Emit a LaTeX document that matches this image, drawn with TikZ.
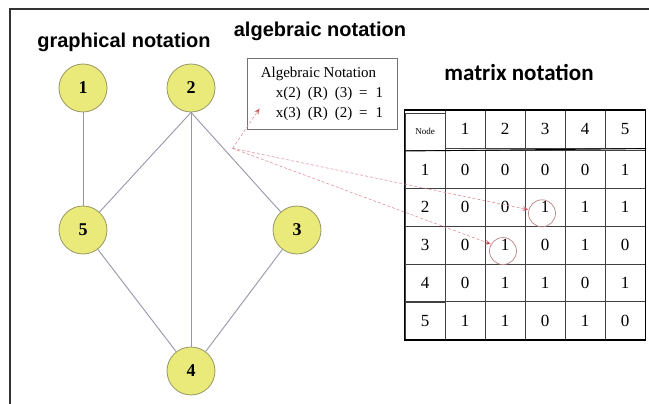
\documentclass[tikz,border=0pt]{standalone}
\usepackage{fontspec}
\setmainfont{Liberation Serif}
\setsansfont{Liberation Sans}
\newfontfamily\calfont{Carlito}
\usetikzlibrary{arrows.meta,positioning,matrix,calc}
\definecolor{NodeFill}{RGB}{234,234,122}
\definecolor{NodeLine}{RGB}{150,150,100}
\definecolor{EdgeGray}{RGB}{150,150,170}
\definecolor{LinkRed}{RGB}{220,130,140}
\definecolor{TipRed}{RGB}{190,30,50}
\definecolor{RingRed}{RGB}{185,130,130}
\tikzset{
  vert/.style={circle,draw=NodeLine,fill=NodeFill,line width=0.8pt,minimum size=48pt,
               inner sep=0pt,font=\fontsize{18}{18}\selectfont\bfseries},
  edge/.style={draw=EdgeGray,line width=0.9pt},
  title/.style={font=\sffamily\bfseries\fontsize{20}{20}\selectfont,inner sep=0pt},
  cell/.style={draw=black!75,line width=0.6pt,minimum width=40pt,minimum height=37.7pt,
               inner sep=0pt,font=\fontsize{17}{17}\selectfont},
  algbox/.style={draw=black!55,line width=0.8pt,minimum width=150pt,minimum height=71pt,
                 align=left,inner sep=0pt,font=\fontsize{15}{20}\selectfont},
  ring/.style={circle,draw=RingRed,line width=0.7pt,minimum size=27pt,inner sep=0pt},
  link/.style={-{Stealth[length=6pt,width=5pt,fill=TipRed]},densely dashed,LinkRed,line width=0.5pt},
}
\newcommand{\algrow}[2]{\hspace*{15pt}x(#1)\hspace{7pt}(R)\hspace{7pt}(#2)\hspace{7pt}=\hspace{8pt}1}

\begin{document}
\begin{tikzpicture}[x=1pt,y=-1pt]
  \useasboundingbox (0,0) rectangle (649,404);
  \draw[line width=1.1pt,black!80] (10,404) -- (10,9) -- (649,9);

  % titles
  \node[title] (tg) at (124,42) {graphical notation};
  \node[title] (ta) at (320,31) {algebraic notation};
  \node[title,font=\calfont\bfseries\fontsize{23}{23}\selectfont] (tm) at (519,72) {matrix notation};

  % graph
  \node[vert] (v1) at (83,88)  {1};
  \node[vert] (v2) at (191,88) {2};
  \node[vert] (v5) at (83,230) {5};
  \node[vert] (v3) at (297,230) {3};
  \node[vert] (v4) at (191,371) {4};

  \draw[edge] (v1) -- (v5);
  \draw[edge] (v2.south) -- (v5);
  \draw[edge] (v2.south) -- (v4);
  \draw[edge] (v2.south) -- (v3);
  \draw[edge] (v5) -- (v4);
  \draw[edge] (v3) -- (v4);

  % algebraic box
  \node[algbox] (alg) at (322,93.5)
    {Algebraic Notation\\ \algrow{2}{3}\\ \algrow{3}{2}};

  % matrix
  \matrix (adj) [matrix of nodes,nodes={cell},column sep=-0.6pt,row sep=-0.6pt,
                 inner sep=0pt] at (525,225) {
    |[font=\fontsize{9}{9}\selectfont]| Node & 1 & 2 & 3 & 4 & 5 \\
    1 & 0 & 0 & 0 & 0 & 1 \\
    2 & 0 & 0 & 1 & 1 & 1 \\
    3 & 0 & 1 & 0 & 1 & 0 \\
    4 & 0 & 1 & 1 & 0 & 1 \\
    5 & 1 & 1 & 0 & 1 & 0 \\
  };
  \draw[line width=1.2pt] (adj.north west) rectangle (adj.south east);
  \draw[line width=0.9pt] (adj-1-1.south west) -- (adj-1-6.south east);

  \node[ring] (c23) at ($(adj-3-4)+(-3,6)$) {};
  \node[ring] (c32) at ($(adj-4-3)+(-2,6)$) {};

  % links
  \coordinate (src) at ($(alg.south west)+(-14,19)$);
  \coordinate (algtip) at ($(alg.south west)+(13,-21)$);
  \draw[link] (src) -- (algtip);
  \draw[link] (src) -- (c23.165);
  \draw[link] (src) -- (c32.150);
\end{tikzpicture}
\end{document}
